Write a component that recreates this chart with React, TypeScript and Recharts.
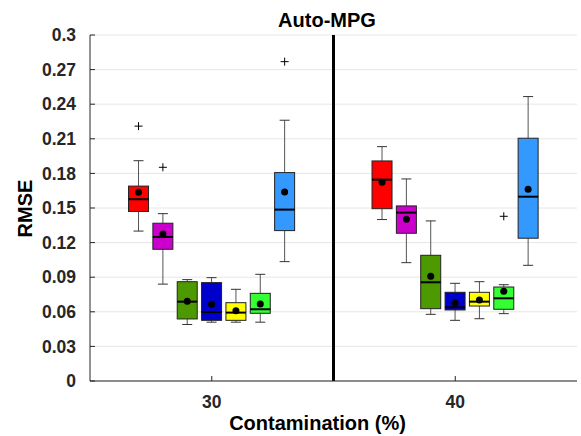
import React from 'react';
import { ComposedChart, Bar, XAxis, YAxis, CartesianGrid, ReferenceLine, Cell } from 'recharts';

// Contamination levels (x groups) and methods per group
const contaminationLevels = [30, 40];
const methodCount = 7;

// Box statistics per group (index 0 -> 30%, index 1 -> 40%), one entry per method
const whiskerLow = [
  [0.130, 0.084, 0.049, 0.051, 0.051, 0.051, 0.1035],
  [0.140, 0.1026, 0.0578, 0.0526, 0.054, 0.0584, 0.1003],
];
const quartile1 = [
  [0.147, 0.1142, 0.0538, 0.0526, 0.0526, 0.0587, 0.1304],
  [0.1494, 0.1281, 0.0627, 0.0616, 0.065, 0.0622, 0.1238],
];
const medians = [
  [0.1576, 0.1249, 0.0688, 0.0598, 0.0593, 0.0622, 0.1486],
  [0.1746, 0.146, 0.0856, 0.0639, 0.0688, 0.0717, 0.1598],
];
const quartile3 = [
  [0.169, 0.1368, 0.0861, 0.0853, 0.0679, 0.076, 0.1807],
  [0.1908, 0.1518, 0.109, 0.0769, 0.0769, 0.0815, 0.2105],
];
const whiskerHigh = [
  [0.191, 0.1451, 0.0879, 0.0896, 0.0795, 0.0925, 0.2261],
  [0.2032, 0.1752, 0.1388, 0.0847, 0.0861, 0.0835, 0.2466],
];
const means = [
  [0.1636, 0.1275, 0.0691, 0.0665, 0.061, 0.0668, 0.1639],
  [0.1723, 0.1402, 0.0908, 0.0677, 0.0703, 0.0778, 0.1662],
];
// Outliers: [group index, method index, value]
const outlierGroup = [0, 0, 0, 1];
const outlierMethod = [0, 1, 6, 5];
const outlierValue = [0.221, 0.1853, 0.2769, 0.1428];

const yTicks = [0, 0.03, 0.06, 0.09, 0.12, 0.15, 0.18, 0.21, 0.24, 0.27, 0.3];

// Styles
const COLORS = ['#FF0000', '#CC00CC', '#4D9900', '#0000CC', '#FFFF00', '#33FF33', '#3399FF'];
const FONT = '"Liberation Sans", Arial, Helvetica, sans-serif';
const TEXT = '#262626';

const rows: any[] = [];
contaminationLevels.forEach((c, g) => {
  for (let m = 0; m < methodCount; m++) {
    const outs: number[] = [];
    outlierValue.forEach((v, k) => {
      if (outlierGroup[k] === g && outlierMethod[k] === m) outs.push(v);
    });
    rows.push({
      x: c + (m - 3),
      method: m,
      range: [quartile1[g][m], quartile3[g][m]],
      low: whiskerLow[g][m],
      q1: quartile1[g][m],
      median: medians[g][m],
      q3: quartile3[g][m],
      high: whiskerHigh[g][m],
      mean: means[g][m],
      outliers: outs,
    });
  }
});

const BoxShape = (props: any) => {
  const { x, y, width, height, payload } = props;
  if (!payload || width == null) return null;
  const top = Math.min(y, y + height);
  const h = Math.abs(height);
  const { q1, q3, low, high, median, mean, outliers, method } = payload;
  const py = (v: number) => top + (h * (q3 - v)) / (q3 - q1);
  const cx = x + width / 2;
  const cap = 5;
  return (
    <g>
      <line x1={cx} x2={cx} y1={py(high)} y2={py(q3)} stroke="#555" strokeWidth={1} />
      <line x1={cx} x2={cx} y1={py(q1)} y2={py(low)} stroke="#555" strokeWidth={1} />
      <line x1={cx - cap} x2={cx + cap} y1={py(high)} y2={py(high)} stroke="#333" strokeWidth={1} />
      <line x1={cx - cap} x2={cx + cap} y1={py(low)} y2={py(low)} stroke="#333" strokeWidth={1} />
      <rect x={x} y={top} width={width} height={h} fill={COLORS[method]} stroke="#222" strokeWidth={1} />
      <line x1={x} x2={x + width} y1={py(median)} y2={py(median)} stroke="#000" strokeWidth={2} />
      <circle cx={cx} cy={py(mean)} r={3.5} fill="#000" />
      {outliers.map((v: number, i: number) => (
        <g key={i}>
          <line x1={cx - 4} x2={cx + 4} y1={py(v)} y2={py(v)} stroke="#000" strokeWidth={1} />
          <line x1={cx} x2={cx} y1={py(v) - 4} y2={py(v) + 4} stroke="#000" strokeWidth={1} />
        </g>
      ))}
    </g>
  );
};

const tickStyle = { fill: TEXT, fontSize: 17.5, fontWeight: 'bold', fontFamily: FONT };
const fmt = (v: number) => String(+Number(v).toFixed(2));

export default function App() {
  return (
    <div style={{ position: 'absolute', left: 0, top: 0, width: 581, height: 436, background: '#fff' }}>
      <ComposedChart
        width={581}
        height={436}
        data={rows}
        margin={{ top: 35, right: 4, left: 0, bottom: 0 }}
      >
        <CartesianGrid vertical={false} stroke="#e6e6e6" strokeWidth={1} />
        <XAxis
          dataKey="x"
          type="number"
          domain={[25, 45]}
          ticks={[30, 40]}
          height={55}
          tickSize={-5}
          tickMargin={20}
          tick={tickStyle}
          axisLine={{ stroke: TEXT, strokeWidth: 1 }}
          tickLine={{ stroke: TEXT }}
          allowDataOverflow
        />
        <XAxis
          xAxisId="top"
          dataKey="x"
          type="number"
          orientation="top"
          domain={[25, 45]}
          ticks={[30, 40]}
          height={0}
          tick={false}
          tickLine={false}
          axisLine={{ stroke: TEXT, strokeWidth: 1 }}
        />
        <YAxis
          type="number"
          domain={[0, 0.3]}
          ticks={yTicks}
          width={90}
          tickSize={-5}
          tickMargin={19}
          tick={tickStyle}
          tickFormatter={fmt}
          axisLine={{ stroke: TEXT, strokeWidth: 1 }}
          tickLine={{ stroke: TEXT }}
          allowDataOverflow
        />
        <YAxis
          yAxisId="right"
          orientation="right"
          type="number"
          domain={[0, 0.3]}
          ticks={yTicks}
          width={0}
          tickSize={-5}
          tick={false}
          axisLine={{ stroke: TEXT, strokeWidth: 1 }}
          tickLine={{ stroke: TEXT }}
        />
        <ReferenceLine x={35} stroke="#000" strokeWidth={3} />
        <Bar dataKey="range" barSize={20} shape={BoxShape} isAnimationActive={false}>
          {rows.map((r, i) => (
            <Cell key={i} fill={COLORS[r.method]} />
          ))}
        </Bar>
      </ComposedChart>
      <svg
        width={581}
        height={436}
        style={{ position: 'absolute', left: 0, top: 0, pointerEvents: 'none' }}
      >
        <text x={327} y={27} textAnchor="middle" fontSize={20} fontWeight="bold" fontFamily={FONT} fill="#000">
          Auto-MPG
        </text>
        <text x={317.5} y={430} textAnchor="middle" fontSize={20} fontWeight="bold" fontFamily={FONT} fill="#000">
          Contamination (%)
        </text>
        <text
          transform="translate(31.5,208.5) rotate(-90)"
          textAnchor="middle"
          fontSize={20}
          fontWeight="bold"
          fontFamily={FONT}
          fill="#000"
        >
          RMSE
        </text>
      </svg>
    </div>
  );
}
